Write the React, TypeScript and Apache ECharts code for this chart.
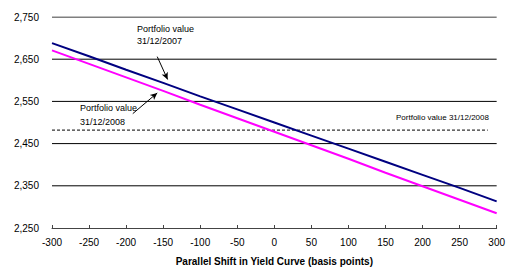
import React, { useEffect, useRef } from "react";
import * as echarts from "echarts";

const shifts = [-300, -250, -200, -150, -100, -50, 0, 50, 100, 150, 200, 250, 300];
const value2007 = [2688, 2657, 2625, 2594, 2562, 2531, 2500, 2469, 2438, 2407, 2376, 2345, 2313];
const value2008 = [2671, 2639, 2607, 2575, 2542, 2510, 2478, 2446, 2414, 2381, 2349, 2317, 2285];
const gridValues = [2350, 2450, 2550, 2650, 2750];
const refLevel2008 = 2482;
const refLineRange = [-300, 288];
const arrow2007 = [[-158, 2656], [-144, 2602]];
const arrow2008 = [[-191, 2521], [-158, 2570]];
const label2007 = ["Portfolio value", "31/12/2007"];
const label2008 = ["Portfolio value", "31/12/2008"];
const labelRef = "Portfolio value 31/12/2008";
const xTitle = "Parallel Shift in Yield Curve (basis points)";

const FONT = "Arial, 'Liberation Sans', sans-serif";

export default function App() {
  const ref = useRef<HTMLDivElement>(null);
  useEffect(() => {
    if (!ref.current) return;
    const chart = echarts.init(ref.current, null, { renderer: "svg" });
    const arrowLine = (pts: number[][]) => ({
      silent: true,
      symbol: ["none", "arrow"],
      symbolSize: [5, 7],
      label: { show: false },
      lineStyle: { color: "#000", width: 1, type: "solid" },
      data: [[{ coord: pts[0] }, { coord: pts[1] }]],
    });
    const gridSeries = gridValues.map((v) => ({
      type: "line",
      name: "grid" + v,
      data: [[-300, v], [300, v]],
      symbol: "none",
      silent: true,
      lineStyle: { color: "#000", width: 1 },
      z: 0,
    }));
    chart.setOption({
      animation: false,
      backgroundColor: "#fff",
      grid: { left: 52, right: 9, top: 17, bottom: 39 },
      xAxis: {
        type: "value",
        min: -300,
        max: 300,
        interval: 50,
        axisLine: { show: true, lineStyle: { color: "#444", width: 1 } },
        axisTick: { show: true, inside: true, length: 3, lineStyle: { color: "#444" } },
        splitLine: { show: false },
        axisLabel: { color: "#000", fontSize: 10, fontFamily: FONT, margin: 9 },
        name: xTitle,
        nameLocation: "middle",
        nameGap: 28,
        nameTextStyle: { color: "#000", fontSize: 10, fontWeight: "bold", fontFamily: FONT },
      },
      yAxis: {
        type: "value",
        min: 2250,
        max: 2750,
        interval: 50,
        axisLine: { show: false },
        axisTick: { show: false },
        splitLine: { show: false },
        axisLabel: {
          color: "#000",
          fontSize: 10,
          fontFamily: FONT,
          margin: 13,
          formatter: (v: number) =>
            Math.round((v - 2250) / 50) % 2 === 0 ? v.toLocaleString("en-US") : "",
        },
      },
      series: [
        ...gridSeries,
        {
          type: "line",
          name: "2007",
          data: shifts.map((s, i) => [s, value2007[i]]),
          symbol: "none",
          lineStyle: { color: "#000080", width: 2 },
          z: 3,
          markLine: arrowLine(arrow2007),
        },
        {
          type: "line",
          name: "2008",
          data: shifts.map((s, i) => [s, value2008[i]]),
          symbol: "none",
          lineStyle: { color: "#FF00FF", width: 2 },
          z: 2,
          markLine: arrowLine(arrow2008),
        },
        {
          type: "line",
          name: "ref",
          data: refLineRange.map((s) => [s, refLevel2008]),
          symbol: "none",
          lineStyle: { color: "#000", width: 1, type: [3, 2] },
          z: 1,
        },
      ],
      graphic: [
        {
          type: "text",
          left: 137,
          top: 23,
          style: {
            text: label2007.join("\n"),
            font: `9px ${FONT}`,
            fill: "#000",
            lineHeight: 12,
          },
        },
        {
          type: "text",
          left: 80,
          top: 101,
          style: {
            text: label2008.join("\n"),
            font: `9px ${FONT}`,
            fill: "#000",
            lineHeight: 14,
          },
        },
        {
          type: "text",
          left: 396,
          top: 113,
          style: {
            text: labelRef,
            font: `8px ${FONT}`,
            fill: "#000",
          },
        },
      ],
    });
    return () => chart.dispose();
  }, []);
  return (
    <div
      ref={ref}
      style={{ position: "fixed", left: 0, top: 0, width: 508, height: 271, background: "#fff" }}
    />
  );
}
